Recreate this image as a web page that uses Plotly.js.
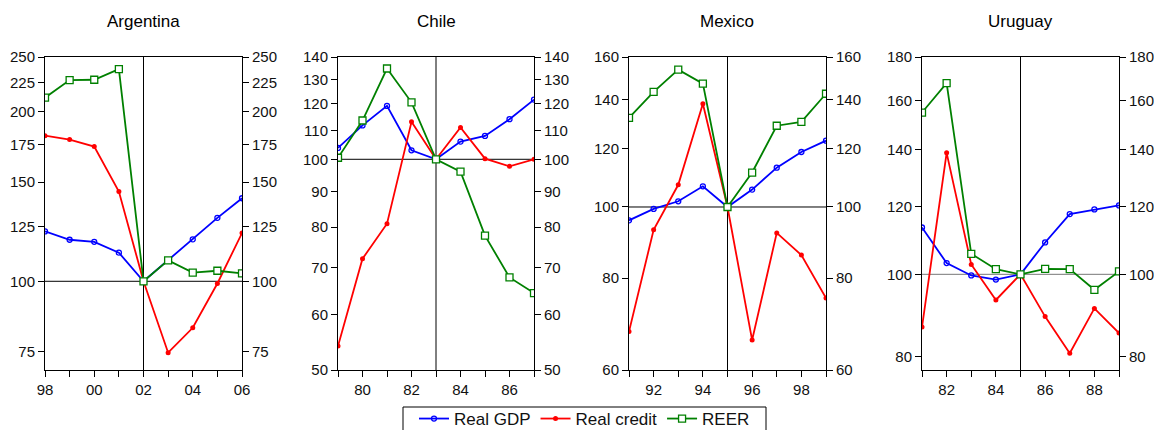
<!DOCTYPE html>
<html><head><meta charset="utf-8">
<script src="https://cdn.plot.ly/plotly-3.0.1.min.js"></script>
<style>body{margin:0;background:#fff}#chart{width:1154px;height:430px}</style>
</head><body><div id="chart"></div>
<script>
// Data (index, base year = 100, log scale)
const countries = ["Argentina", "Chile", "Mexico", "Uruguay"];
const argYears = [1998,1999,2000,2001,2002,2003,2004,2005,2006];
const argGDP    = [122.6,118.5,117.5,112.4,100,108.9,118.7,129.6,140.4];
const argCredit = [181.3,178.4,173.4,144.3,100,74.7,82.7,99.1,121.8];
const argREER   = [211.7,227.5,227.8,237.9,100,108.9,103.6,104.4,103.3];
const argXTicks = ["98","","00","","02","","04","","06"];
const argYTicks = [75,100,125,150,175,200,225,250];

const chiYears = [1979,1980,1981,1982,1983,1984,1985,1986,1987];
const chiGDP    = [103.8,111.8,119.2,103.0,100,106.0,108.0,114.1,121.7];
const chiCredit = [54.1,72.1,80.9,113.1,100,111.0,100.2,97.7,100.0];
const chiREER   = [100.5,113.6,134.8,120.6,100,96.0,77.8,67.8,64.4];
const chiXTicks = ["","80","","82","","84","","86",""];
const chiYTicks = [50,60,70,80,90,100,110,120,130,140];

const mexYears = [1991,1992,1993,1994,1995,1996,1997,1998,1999];
const mexGDP    = [95.9,99.4,101.8,106.7,100,105.6,113.1,118.8,123.1];
const mexCredit = [67.7,93.1,107.2,138.2,100,65.9,92.2,86.0,75.2];
const mexREER   = [132.2,143.4,153.8,147.2,100,111.4,129.0,130.6,142.6];
const mexXTicks = ["","92","","94","","96","","98",""];
const mexYTicks = [60,80,100,120,140,160];

const uruYears = [1981,1982,1983,1984,1985,1986,1987,1988,1989];
const uruGDP    = [113.5,103.1,99.7,98.6,100,109.0,117.7,119.2,120.5];
const uruCredit = [86.7,138.9,102.7,93.3,100,89.2,80.8,91.2,85.3];
const uruREER   = [154.9,167.7,105.7,101.4,100,101.5,101.4,95.9,100.8];
const uruXTicks = ["","82","","84","","86","","88",""];
const uruYTicks = [80,100,120,140,160,180];

const yRanges = [[69.6,250],[50,140],[60,160],[77.2,180]];

const panels = [
  {years:argYears,gdp:argGDP,credit:argCredit,reer:argREER,xt:argXTicks,yt:argYTicks,hl:"#000"},
  {years:chiYears,gdp:chiGDP,credit:chiCredit,reer:chiREER,xt:chiXTicks,yt:chiYTicks,hl:"#000"},
  {years:mexYears,gdp:mexGDP,credit:mexCredit,reer:mexREER,xt:mexXTicks,yt:mexYTicks,hl:"#000"},
  {years:uruYears,gdp:uruGDP,credit:uruCredit,reer:uruREER,xt:uruXTicks,yt:uruYTicks,hl:"#777"}
];

const W = 1154, H = 430;
const xPix = [[45,242],[338,534],[629,826],[922,1119]];
const yDom = [1-370/H, 1-57/H];
const fam = "Liberation Sans, Arial, sans-serif";
const font = {family:fam, size:15, color:"#111"};

const traces = [];
const layout = {
  width:W, height:H, margin:{l:0,r:0,t:0,b:0,autoexpand:false},
  paper_bgcolor:"#fff", plot_bgcolor:"#fff", font:font,
  showlegend:true,
  legend:{orientation:"h", x:0.5065, xanchor:"center", y:1-401/H, yanchor:"top",
          borderwidth:0, bgcolor:"rgba(0,0,0,0)",
          font:{family:fam,size:17,color:"#111"}, tracegroupgap:0},
  shapes:[
    {type:"rect", xref:"paper", yref:"paper", x0:403/W, x1:766/W, y0:-0.05, y1:1-407/H,
     line:{color:"#000",width:1}, fillcolor:"rgba(0,0,0,0)"}
  ],
  annotations:[]
};

panels.forEach((p,i)=>{
  const xn = i===0 ? "" : String(i+1);
  const yl = String(2*i+1), yr = String(2*i+2);
  const xa = "x"+xn, ya = "y"+(yl==="1"?"":yl), yb = "y"+yr;
  const show = i===0;
  traces.push({x:p.years,y:p.gdp,xaxis:xa,yaxis:ya,type:"scatter",mode:"lines+markers",name:"Real GDP",
    legendgroup:"gdp",showlegend:show,line:{color:"#0000ff",width:1.8},
    marker:{symbol:"circle-open",size:5,color:"#0000ff",line:{width:1.3}}});
  traces.push({x:p.years,y:p.credit,xaxis:xa,yaxis:ya,type:"scatter",mode:"lines+markers",name:"Real credit",
    legendgroup:"credit",showlegend:show,line:{color:"#ff0000",width:1.8},
    marker:{symbol:"circle",size:5,color:"#ff0000"}});
  traces.push({x:p.years,y:p.reer,xaxis:xa,yaxis:ya,type:"scatter",mode:"lines+markers",name:"REER",
    legendgroup:"reer",showlegend:show,line:{color:"#008000",width:1.8},
    marker:{symbol:"square",size:7,color:"#ffffff",line:{color:"#008000",width:1.3}}});
  // invisible trace to carry the right-hand axis
  traces.push({x:p.years,y:p.gdp,xaxis:xa,yaxis:yb,type:"scatter",mode:"lines",opacity:0,
    showlegend:false,hoverinfo:"skip",line:{width:0}});

  const d = [xPix[i][0]/W, xPix[i][1]/W];
  const lr = [Math.log10(yRanges[i][0]), Math.log10(yRanges[i][1])];
  layout["xaxis"+xn] = {domain:d, anchor:ya, range:[p.years[0],p.years[p.years.length-1]],
    tickmode:"array", tickvals:p.years, ticktext:p.xt, ticks:"outside", ticklen:6, tickwidth:1,
    tickcolor:"#000", showline:true, mirror:true, linecolor:"#000", linewidth:1, showgrid:false, zeroline:false,
    tickfont:font, fixedrange:true};
  layout["yaxis"+(yl==="1"?"":yl)] = {domain:yDom, anchor:xa, type:"log", range:lr,
    tickmode:"array", tickvals:p.yt, ticktext:p.yt.map(String), ticks:"outside", ticklen:6,
    tickcolor:"#000", showline:true, linecolor:"#000", linewidth:1, showgrid:false, zeroline:false,
    tickfont:font, side:"left"};
  layout["yaxis"+yr] = {domain:yDom, anchor:xa, overlaying:ya, type:"log", range:lr, side:"right",
    tickmode:"array", tickvals:p.yt, ticktext:p.yt.map(String), ticks:"outside", ticklen:6,
    tickcolor:"#000", showline:true, linecolor:"#000", linewidth:1, showgrid:false, zeroline:false,
    tickfont:font};
  const base = p.years[4];
  layout.shapes.push({type:"line", xref:xa+" domain", yref:ya, x0:0, x1:1, y0:100, y1:100,
    line:{color:p.hl,width:1}, layer:"below"});
  layout.shapes.push({type:"line", xref:xa, yref:ya+" domain", x0:base, x1:base, y0:0, y1:1,
    line:{color:"#000",width:1}, layer:"below"});
  layout.annotations.push({text:countries[i], xref:"paper", yref:"paper",
    x:(d[0]+d[1])/2, y:1-22/H, xanchor:"center", yanchor:"middle", showarrow:false,
    font:{family:fam,size:17,color:"#000"}});
});

Plotly.newPlot("chart", traces, layout, {displayModeBar:false, staticPlot:true});
</script></body></html>
